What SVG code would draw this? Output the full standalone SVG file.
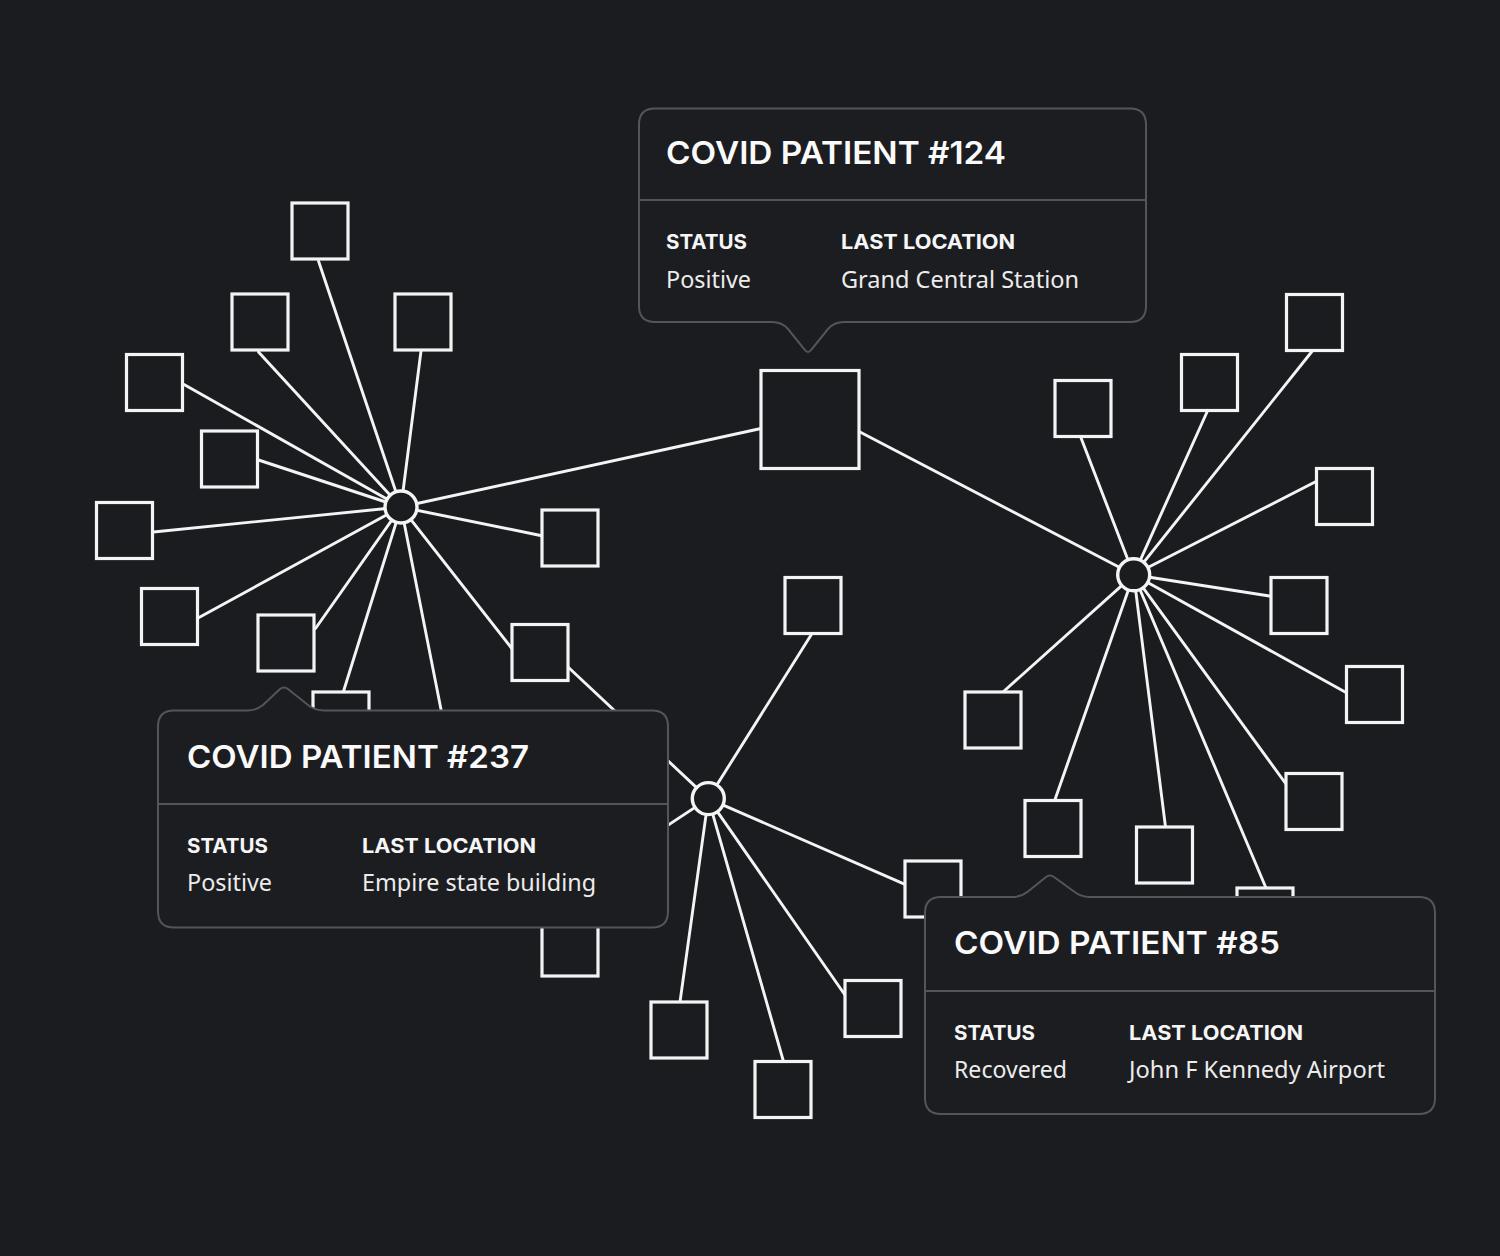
<svg xmlns="http://www.w3.org/2000/svg" width="1500" height="1256" viewBox="0 0 1500 1256">
<defs>
<style>
.bg{fill:#1b1c20}
.ln{stroke:#f4f4f4;stroke-width:2.9;fill:none;stroke-linecap:round}
.sq{fill:#1b1c20;stroke:#f4f4f4;stroke-width:3.2}
.hub{fill:#1b1c20;stroke:#f4f4f4;stroke-width:3.4}
.tip{fill:#1c1d21;stroke:#54555a;stroke-width:2}
.div{stroke:#54555a;stroke-width:2}
.title{font-family:Inter,"Liberation Sans",sans-serif;font-weight:600;font-size:31px;fill:#fafafa}
.lab{font-family:Inter,"Liberation Sans",sans-serif;font-weight:700;font-size:20px;fill:#f6f6f6}
.val{font-family:"Noto Sans","Liberation Sans",sans-serif;font-size:24px;fill:#ececec}
</style>
</defs>
<rect class="bg" x="0" y="0" width="1500" height="1256"/>
<g id="connectors">
<line class="ln" x1="401" y1="507" x2="318.5" y2="261"/>
<line class="ln" x1="401" y1="507" x2="258.5" y2="352"/>
<line class="ln" x1="401" y1="507" x2="421" y2="351"/>
<line class="ln" x1="401" y1="507" x2="184" y2="384.5"/>
<line class="ln" x1="401" y1="507" x2="258.5" y2="460"/>
<line class="ln" x1="401" y1="507" x2="153.5" y2="532"/>
<line class="ln" x1="401" y1="507" x2="199" y2="617.5"/>
<line class="ln" x1="401" y1="507" x2="315.5" y2="628.5"/>
<line class="ln" x1="401" y1="507" x2="343.3" y2="692"/>
<line class="ln" x1="401" y1="507" x2="451" y2="760"/>
<line class="ln" x1="401" y1="507" x2="543" y2="536"/>
<line class="ln" x1="401" y1="507" x2="513" y2="650"/>
<line class="ln" x1="401" y1="507" x2="761" y2="428.5"/>
<line class="ln" x1="568" y1="667" x2="708.3" y2="798.6"/>
<line class="ln" x1="859" y1="431.5" x2="1133.7" y2="574.8"/>
<line class="ln" x1="1133.7" y1="574.8" x2="1312.7" y2="350.5"/>
<line class="ln" x1="1133.7" y1="574.8" x2="1207.7" y2="410.5"/>
<line class="ln" x1="1133.7" y1="574.8" x2="1080.5" y2="436.5"/>
<line class="ln" x1="1133.7" y1="574.8" x2="1316" y2="481.5"/>
<line class="ln" x1="1133.7" y1="574.8" x2="1271" y2="596.2"/>
<line class="ln" x1="1133.7" y1="574.8" x2="1346" y2="692.5"/>
<line class="ln" x1="1133.7" y1="574.8" x2="1286" y2="784"/>
<line class="ln" x1="1133.7" y1="574.8" x2="1266" y2="888"/>
<line class="ln" x1="1133.7" y1="574.8" x2="1165.5" y2="827"/>
<line class="ln" x1="1133.7" y1="574.8" x2="1054.5" y2="801"/>
<line class="ln" x1="1133.7" y1="574.8" x2="1003" y2="692"/>
<line class="ln" x1="708.3" y1="798.6" x2="811.7" y2="634"/>
<line class="ln" x1="708.3" y1="798.6" x2="905" y2="884.3"/>
<line class="ln" x1="708.3" y1="798.6" x2="845" y2="995"/>
<line class="ln" x1="708.3" y1="798.6" x2="783.5" y2="1061.5"/>
<line class="ln" x1="708.3" y1="798.6" x2="680" y2="1002"/>
<line class="ln" x1="708.3" y1="798.6" x2="600" y2="870"/>
</g>
<g id="node-center"><rect class="sq" x="761" y="370.5" width="98" height="98"/></g>
<g id="hub-1"><circle class="hub" cx="401" cy="507" r="16"/></g>
<g id="hub-2"><circle class="hub" cx="1133.7" cy="574.8" r="16"/></g>
<g id="hub-3"><circle class="hub" cx="708.3" cy="798.6" r="16"/></g>
<g id="n1a"><rect class="sq" x="292" y="203" width="56" height="56"/></g>
<g id="n1b"><rect class="sq" x="232" y="294" width="56" height="56"/></g>
<g id="n1c"><rect class="sq" x="395" y="294" width="56" height="56"/></g>
<g id="n1d"><rect class="sq" x="126.5" y="354.5" width="56" height="56"/></g>
<g id="n1e"><rect class="sq" x="201.5" y="431" width="56" height="56"/></g>
<g id="n1f"><rect class="sq" x="96.5" y="502.5" width="56" height="56"/></g>
<g id="n1g"><rect class="sq" x="141.5" y="588.5" width="56" height="56"/></g>
<g id="n1h"><rect class="sq" x="258" y="615" width="56" height="56"/></g>
<g id="n1k"><rect class="sq" x="313" y="692" width="56" height="56"/></g>
<g id="n1i"><rect class="sq" x="542" y="510" width="56" height="56"/></g>
<g id="n1j"><rect class="sq" x="512" y="624.5" width="56" height="56"/></g>
<g id="n3a"><rect class="sq" x="785" y="577.5" width="56" height="56"/></g>
<g id="n3b"><rect class="sq" x="905" y="861" width="56" height="56"/></g>
<g id="n3c"><rect class="sq" x="845" y="980.5" width="56" height="56"/></g>
<g id="n3d"><rect class="sq" x="755" y="1061.5" width="56" height="56"/></g>
<g id="n3e"><rect class="sq" x="651" y="1002" width="56" height="56"/></g>
<g id="n3f"><rect class="sq" x="542" y="920" width="56" height="56"/></g>
<g id="n2a"><rect class="sq" x="1286.5" y="294.5" width="56" height="56"/></g>
<g id="n2b"><rect class="sq" x="1181.5" y="354.5" width="56" height="56"/></g>
<g id="n2c"><rect class="sq" x="1055" y="380.5" width="56" height="56"/></g>
<g id="n2d"><rect class="sq" x="1316.5" y="468.5" width="56" height="56"/></g>
<g id="n2e"><rect class="sq" x="1271" y="577.5" width="56" height="56"/></g>
<g id="n2f"><rect class="sq" x="1346.5" y="666.5" width="56" height="56"/></g>
<g id="n2g"><rect class="sq" x="1286" y="773.5" width="56" height="56"/></g>
<g id="n2h"><rect class="sq" x="1237" y="888" width="56" height="56"/></g>
<g id="n2i"><rect class="sq" x="1136.5" y="827" width="56" height="56"/></g>
<g id="n2j"><rect class="sq" x="1025" y="800.5" width="56" height="56"/></g>
<g id="n2k"><rect class="sq" x="965" y="692" width="56" height="56"/></g>
<g id="tooltip-124">
<path class="tip" d="M655 108.5 H1130 Q1146 108.5 1146 124.5 V306 Q1146 322 1130 322 H844 Q834 322 828 329 L811 350 Q808 354 805 350 L788 329 Q782 322 772 322 H655 Q639 322 639 306 V124.5 Q639 108.5 655 108.5 Z"/>
<line class="div" x1="639" y1="200" x2="1146" y2="200"/>
<text class="title" x="666" y="163.5" textLength="340" lengthAdjust="spacingAndGlyphs">COVID PATIENT #124</text>
<text class="lab" x="666" y="249" textLength="81" lengthAdjust="spacingAndGlyphs">STATUS</text>
<text class="lab" x="841" y="249" textLength="174" lengthAdjust="spacingAndGlyphs">LAST LOCATION</text>
<text class="val" x="666" y="287.5" textLength="85" lengthAdjust="spacingAndGlyphs">Positive</text>
<text class="val" x="841" y="287.5" textLength="238" lengthAdjust="spacingAndGlyphs">Grand Central Station</text>
</g>
<g id="tooltip-237">
<path class="tip" d="M174 710.5 H248 Q256 710.5 263 705 L280 689 Q284 686 288 689 L308 705 Q315 710.5 324 710.5 H652 Q668 710.5 668 726.5 V911.5 Q668 927.5 652 927.5 H174 Q158 927.5 158 911.5 V726.5 Q158 710.5 174 710.5 Z"/>
<line class="div" x1="158" y1="804" x2="668" y2="804"/>
<text class="title" x="187" y="767.5" textLength="342" lengthAdjust="spacingAndGlyphs">COVID PATIENT #237</text>
<text class="lab" x="187" y="853" textLength="81" lengthAdjust="spacingAndGlyphs">STATUS</text>
<text class="lab" x="362" y="853" textLength="174" lengthAdjust="spacingAndGlyphs">LAST LOCATION</text>
<text class="val" x="187" y="891" textLength="85" lengthAdjust="spacingAndGlyphs">Positive</text>
<text class="val" x="362" y="891" textLength="234" lengthAdjust="spacingAndGlyphs">Empire state building</text>
</g>
<g id="tooltip-85">
<path class="tip" d="M941 897 H1013 Q1021 897 1028 891.5 L1046 877 Q1050 874 1054 877 L1074 891.5 Q1081 897 1090 897 H1419 Q1435 897 1435 913 V1098 Q1435 1114 1419 1114 H941 Q925 1114 925 1098 V913 Q925 897 941 897 Z"/>
<line class="div" x1="925" y1="991" x2="1435" y2="991"/>
<text class="title" x="954" y="954" textLength="326" lengthAdjust="spacingAndGlyphs">COVID PATIENT #85</text>
<text class="lab" x="954" y="1040" textLength="81" lengthAdjust="spacingAndGlyphs">STATUS</text>
<text class="lab" x="1129" y="1040" textLength="174" lengthAdjust="spacingAndGlyphs">LAST LOCATION</text>
<text class="val" x="954" y="1078" textLength="113" lengthAdjust="spacingAndGlyphs">Recovered</text>
<text class="val" x="1129" y="1078" textLength="256" lengthAdjust="spacingAndGlyphs">John F Kennedy Airport</text>
</g>
</svg>
